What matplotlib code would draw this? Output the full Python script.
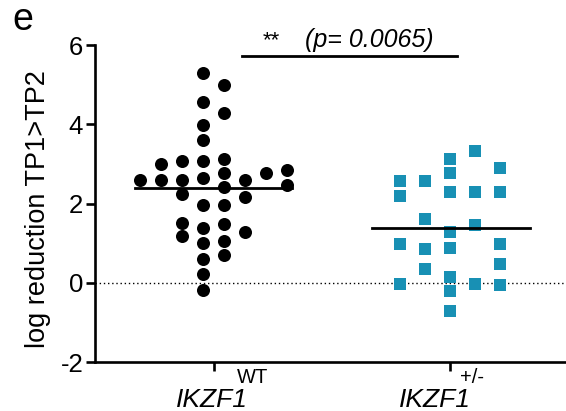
import matplotlib
matplotlib.use("Agg")
import matplotlib.pyplot as plt
import numpy as np
import matplotlib.transforms as mtransforms

plt.rcParams['font.family'] = ['Liberation Sans', 'DejaVu Sans']

# Data (log reduction TP1>TP2)
groups = ["WT", "+/-"]
gene = "IKZF1"
wt_values = [2.60,
             2.99, 2.60,
             3.07, 2.60, 2.23, 1.51, 1.17,
             5.30, 4.56, 3.97, 3.61, 3.07, 2.64, 1.95, 1.38, 1.00, 0.60, 0.22, -0.18,
             5.00, 4.29, 3.13, 2.77, 2.41, 1.97, 1.49, 1.05, 0.71,
             2.60, 2.16, 1.27,
             2.77,
             2.84, 2.46]
het_values = [2.58, 2.18, 0.98, -0.02,
              2.58, 1.61, 0.85, 0.35,
              3.13, 2.77, 2.29, 1.29, 0.87, 0.15, -0.22, -0.71,
              3.32, 2.29, 1.46, -0.02,
              2.89, 2.29, 0.98, 0.47, -0.05]
sig_stars = "**"
p_text = "(p= 0.0065)"

# Layout: swarm column slot for each point (layout only)
wt_slots = [0, 1, 1, 2, 2, 2, 2, 2] + [3] * 12 + [4] * 9 + [5] * 3 + [6] + [7] * 2
het_slots = [0] * 4 + [1] * 4 + [2] * 8 + [3] * 4 + [4] * 5

fig = plt.figure(figsize=(5.66, 4.11), dpi=100)
ax = fig.add_axes([95 / 566, 49 / 411, 471 / 566, 317 / 411])
ax.set_xlim(0.497, 2.493)
ax.set_ylim(-2, 6)

teal = "#1890b4"
wt_step = 0.089
het_step = 0.106
wt_x = 1 + (np.array(wt_slots) - 3.5) * wt_step
het_x = 2 + (np.array(het_slots) - 2.0) * het_step

ax.axhline(0, color="black", lw=1.0, ls=(0, (1, 2)), zorder=1)

ax.scatter(wt_x, wt_values, s=88, marker="o", color="black", zorder=3, linewidths=0)
ax.scatter(het_x, het_values, s=80, marker="s", color=teal, zorder=3, linewidths=0)

wt_mean = np.mean(wt_values)
het_mean = np.mean(het_values)
ax.plot([1 - 0.335, 1 + 0.33], [wt_mean, wt_mean], color="black", lw=2.0, zorder=4)
ax.plot([2 - 0.33, 2 + 0.34], [het_mean, het_mean], color="black", lw=2.0, zorder=4)

# significance bar
ax.plot([1.12, 2.03], [5.71, 5.71], color="black", lw=2.0, clip_on=False)
ax.text(1.245, 5.96, sig_stars, ha="center", va="baseline", fontsize=16)
ax.text(1.386, 5.96, p_text, ha="left", va="baseline", fontsize=18, style="italic")

for s in ["top", "right"]:
    ax.spines[s].set_visible(False)
ax.spines["left"].set_linewidth(1.9)
ax.spines["bottom"].set_linewidth(1.9)
ax.spines["left"].set_bounds(-2, 6)

ax.set_yticks([-2, 0, 2, 4, 6])
ax.set_yticklabels(["-2", "0", "2", "4", "6"])
ax.tick_params(axis="y", labelsize=18.5, width=1.9, length=6.5, direction="out", pad=2)
ax.set_xticks([1, 2])
ax.set_xticklabels(["", ""])
ax.tick_params(axis="x", width=1.9, length=6.5, direction="out")

ax.text((38 - 95) / 471, (362 - 209) / 317, "log reduction TP1>TP2", transform=ax.transAxes,
        rotation=90, ha="center", va="center", fontsize=19.5)

trans = mtransforms.blended_transform_factory(ax.transData, ax.transAxes)
ax.text(1.165, -0.067, groups[0], transform=trans, ha="center", va="baseline", fontsize=14.5)
ax.text(2.095, -0.067, groups[1], transform=trans, ha="center", va="baseline", fontsize=14.5)
ax.text(0.994, -0.141, gene, transform=trans, ha="center", va="baseline", fontsize=19, style="italic")
ax.text(1.936, -0.141, gene, transform=trans, ha="center", va="baseline", fontsize=19, style="italic")

fig.text(12 / 566, 1 - 2 / 411, "e", ha="left", va="top", fontsize=27)

fig.savefig("out.png", dpi=100)
